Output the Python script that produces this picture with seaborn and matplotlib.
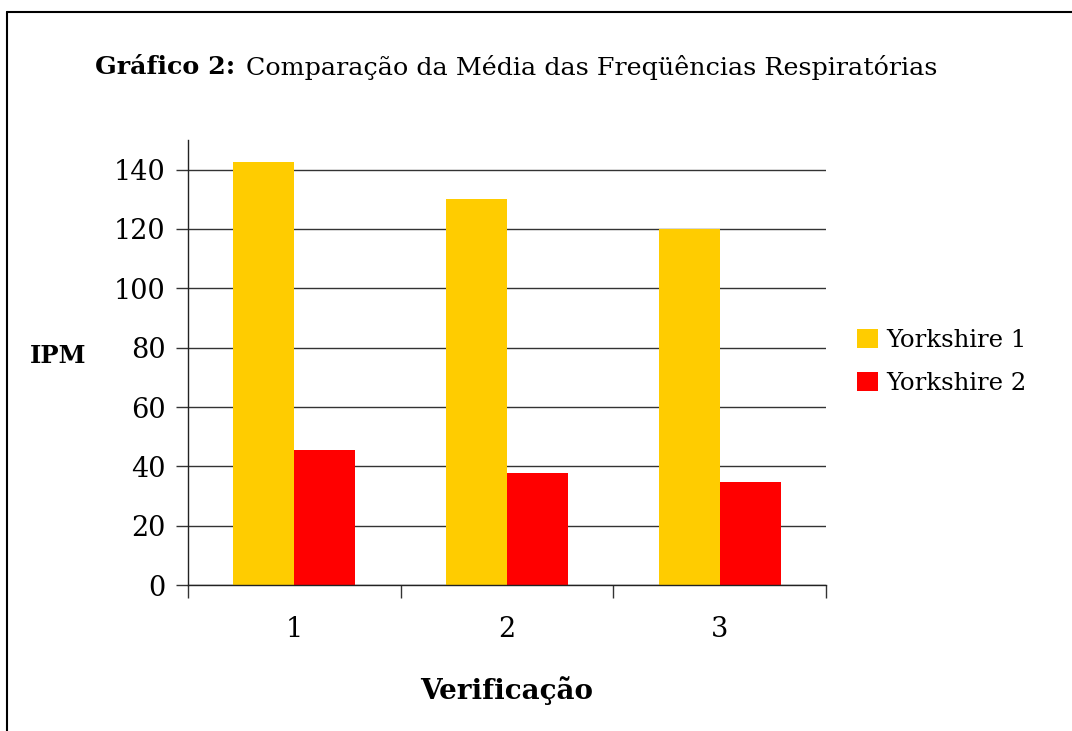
import matplotlib
matplotlib.use("Agg")
import matplotlib.pyplot as plt
import seaborn as sns
import pandas as pd
from matplotlib.patches import Patch
from matplotlib.lines import Line2D
from matplotlib.ticker import FixedLocator

# data
verificacao = ["1", "2", "3"]
yorkshire1 = [142.7, 130.2, 120.0]
yorkshire2 = [45.6, 37.9, 34.8]
series = ["Yorkshire 1", "Yorkshire 2"]
colors = ["#FFCC00", "#FF0000"]

df = pd.DataFrame({
    "Verificação": verificacao * 2,
    "IPM": yorkshire1 + yorkshire2,
    "Serie": [series[0]] * 3 + [series[1]] * 3,
})

sns.set_style("white")
plt.rcParams["font.family"] = ["DejaVu Serif"]
plt.rcParams["text.color"] = "black"
plt.rcParams["xtick.color"] = "black"
plt.rcParams["ytick.color"] = "black"
plt.rcParams["axes.labelcolor"] = "black"

fig = plt.figure(figsize=(10.72, 7.31), dpi=100)
ax = fig.add_axes([0.1754, 0.1997, 0.5951, 0.6088])

sns.barplot(data=df, x="Verificação", y="IPM", hue="Serie", palette=colors,
            width=0.575, ax=ax, legend=False, saturation=1, linewidth=0)

ax.set_xlim(-0.5, 2.5)
ax.set_ylim(0, 150)
ax.set_yticks([0, 20, 40, 60, 80, 100, 120, 140])
ax.yaxis.grid(True, color="#333333", linewidth=1)
ax.set_axisbelow(True)
for s in ["top", "right"]:
    ax.spines[s].set_visible(False)
for s in ["left", "bottom"]:
    ax.spines[s].set_color("#222222")
    ax.spines[s].set_linewidth(1)

ax.tick_params(axis="y", which="major", length=9, width=1, color="#333333",
               direction="out", labelsize=19.5, pad=7, left=True)
ax.tick_params(axis="x", which="major", length=0, labelsize=19.5, pad=22)
ax.xaxis.set_minor_locator(FixedLocator([-0.5, 0.5, 1.5, 2.5]))
ax.tick_params(axis="x", which="minor", length=9, width=1, color="#333333",
               direction="out", bottom=True)

ax.set_xlabel("Verificação", fontsize=20, fontweight="bold", labelpad=24)
ax.set_ylabel("")
fig.text(0.028, 0.513, "IPM", fontsize=17.5, fontweight="bold",
         ha="left", va="center")

fig.text(0.0885, 0.908, "Gráfico 2:", fontsize=18.3, fontweight="bold",
         ha="left", va="center")
fig.text(0.2295, 0.908, "Comparação da Média das Freqüências Respiratórias",
         fontsize=18.3, ha="left", va="center")

handles = [Patch(facecolor=c, edgecolor="none") for c in colors]
fig.legend(handles, series, loc="center left", bbox_to_anchor=(0.779, 0.505),
           frameon=False, fontsize=17.6, handlelength=0.85, handleheight=0.85,
           handletextpad=0.35, labelspacing=0.8)

# outer frame (left and top edges only visible)
fig.add_artist(Line2D([0.0065, 0.0065], [0, 0.984], color="black", lw=1.5,
                      transform=fig.transFigure))
fig.add_artist(Line2D([0.0065, 1.0], [0.984, 0.984], color="black", lw=1.5,
                      transform=fig.transFigure))

fig.savefig("out.png", dpi=100)
